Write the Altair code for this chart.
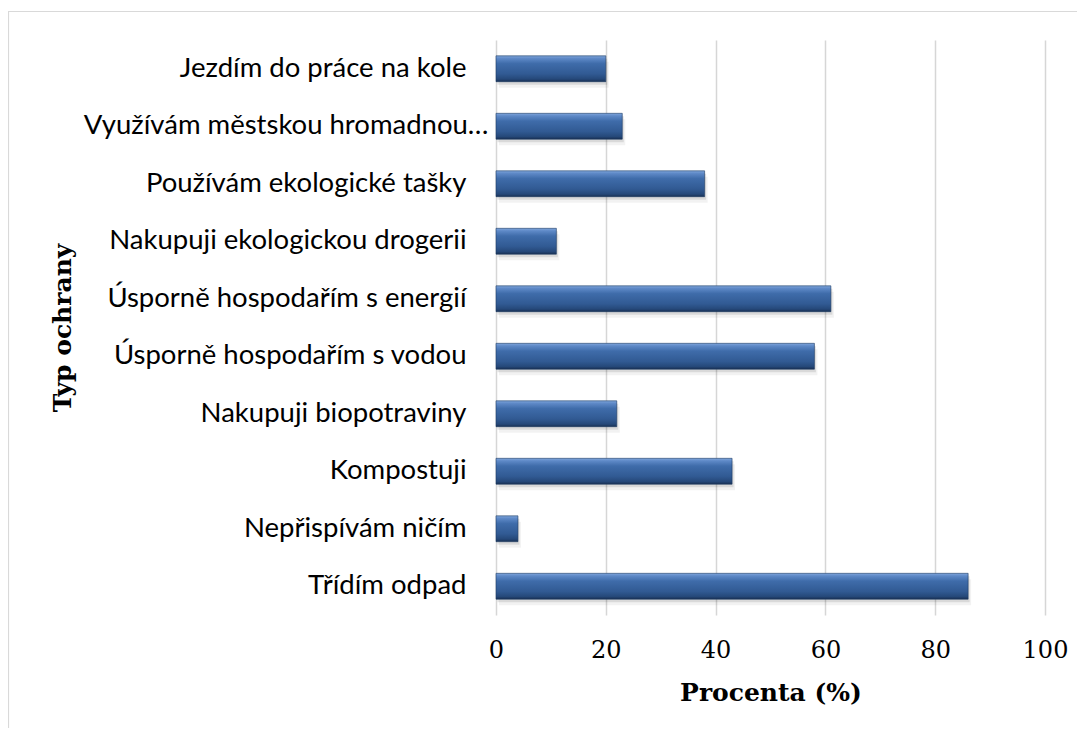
import altair as alt
import pandas as pd

categories = [
    "Jezdím do práce na kole",
    "Využívám městskou hromadnou…",
    "Používám ekologické tašky",
    "Nakupuji ekologickou drogerii",
    "Úsporně hospodařím s energií",
    "Úsporně hospodařím s vodou",
    "Nakupuji biopotraviny",
    "Kompostuji",
    "Nepřispívám ničím",
    "Třídím odpad",
]
values = [20, 23, 38, 11, 61, 58, 22, 43, 4, 86]
x_ticks = [0, 20, 40, 60, 80, 100]

df = pd.DataFrame({"typ": categories, "procenta": values})

grad = alt.Gradient(
    gradient="linear",
    x1=0, x2=0, y1=0, y2=1,
    stops=[
        alt.GradientStop(offset=0.0, color="#80a6dc"),
        alt.GradientStop(offset=0.1, color="#5e89c7"),
        alt.GradientStop(offset=0.3, color="#3f6caa"),
        alt.GradientStop(offset=0.7, color="#315a93"),
        alt.GradientStop(offset=0.9, color="#254879"),
        alt.GradientStop(offset=1.0, color="#182f52"),
    ],
)

y_enc = alt.Y(
    "typ:N",
    sort=categories,
    scale=alt.Scale(paddingInner=0.55, paddingOuter=0.275),
    axis=alt.Axis(
        title="Typ ochrany",
        titleFont="DejaVu Serif",
        titleFontSize=25,
        titleFontWeight="bold",
        titleColor="#000000",
        titleAngle=-90,
        titleAlign="center",
        titleBaseline="middle",
        titleX=-434,
        titleY=287.5,
        labelFont="Lato",
        labelFontSize=27.5,
        labelColor="#000000",
        labelLimit=500,
        labelPadding={
            "condition": {"test": "datum.value === 'Využívám městskou hromadnou…'", "value": 8},
            "value": 30,
        },
        ticks=False,
        tickSize=0,
        domain=False,
        grid=False,
    ),
)

x_enc = alt.X(
    "procenta:Q",
    scale=alt.Scale(domain=[0, 100], nice=False),
    axis=alt.Axis(
        title="Procenta (%)",
        titleFont="DejaVu Serif",
        titleFontSize=25,
        titleFontWeight="bold",
        titleColor="#000000",
        titleBaseline="alphabetic",
        titleY=85,
        values=x_ticks,
        labelFont="DejaVu Serif",
        labelFontSize=24,
        labelColor="#000000",
        labelPadding=23,
        labelFlush=False,
        ticks=False,
        tickSize=0,
        domain=False,
        grid=True,
        gridColor="#d6d6d6",
        gridWidth=1.5,
    ),
)

base = alt.Chart(df)

shadow2 = base.mark_bar(color="#000000", opacity=0.05, yOffset=6, xOffset=3).encode(x=x_enc, y=y_enc)
shadow1 = base.mark_bar(color="#000000", opacity=0.10, yOffset=3, xOffset=1.5).encode(x=x_enc, y=y_enc)
bars = base.mark_bar(color=grad, stroke="#1d3a63", strokeWidth=0.6).encode(x=x_enc, y=y_enc)

border_top = alt.Chart(pd.DataFrame({"k": [0]})).mark_rule(color="#d9d9d9", strokeWidth=1.2).encode(
    x=alt.value(-488), x2=alt.value(600), y=alt.value(-28.5)
)
border_left = alt.Chart(pd.DataFrame({"k": [0]})).mark_rule(color="#d9d9d9", strokeWidth=1.2).encode(
    x=alt.value(-487.5), y=alt.value(-29), y2=alt.value(700)
)

chart = alt.layer(border_top, border_left, shadow2, shadow1, bars).properties(
    width=549,
    height=575,
    padding={"left": 488, "top": 32, "right": 32, "bottom": 113},
    autosize=alt.AutoSizeParams(type="none"),
    background="#ffffff",
).configure_view(stroke=None)

chart.save("out.html", embed_options={"renderer": "svg", "actions": False})
